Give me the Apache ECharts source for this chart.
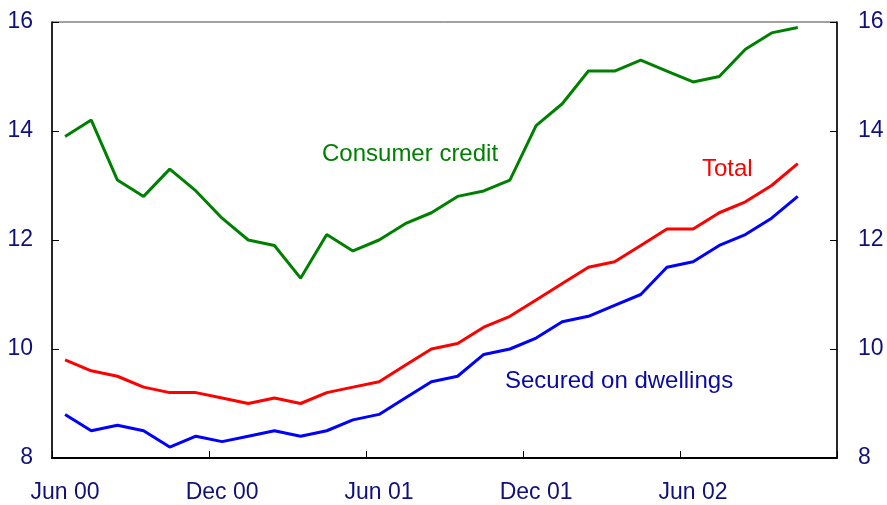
<!DOCTYPE html>
<html>
<head>
<meta charset="utf-8">
<script src="https://cdn.jsdelivr.net/npm/echarts@6/dist/echarts.min.js"></script>
<style>
	html, body { margin: 0; padding: 0; background: #fff; }
	#chart { width: 887px; height: 505px; }
</style>
</head>
<body>
<div id="chart"></div>
<script>
	// months, Jun 00 to Nov 02 (last band left empty)
	var months = ['Jun 00','Jul 00','Aug 00','Sep 00','Oct 00','Nov 00','Dec 00','Jan 01','Feb 01','Mar 01','Apr 01','May 01',
		'Jun 01','Jul 01','Aug 01','Sep 01','Oct 01','Nov 01','Dec 01','Jan 02','Feb 02','Mar 02','Apr 02','May 02',
		'Jun 02','Jul 02','Aug 02','Sep 02','Oct 02','Nov 02'];
	var yTicks = [8, 10, 12, 14, 16];

	var consumerCredit = [13.9,14.2,13.1,12.8,13.3,12.9,12.4,12.0,11.9,11.3,12.1,11.8,12.0,12.3,12.5,12.8,12.9,13.1,14.1,14.5,15.1,15.1,15.3,15.1,14.9,15.0,15.5,15.8,15.9];
	var total = [9.8,9.6,9.5,9.3,9.2,9.2,9.1,9.0,9.1,9.0,9.2,9.3,9.4,9.7,10.0,10.1,10.4,10.6,10.9,11.2,11.5,11.6,11.9,12.2,12.2,12.5,12.7,13.0,13.4];
	var securedOnDwellings = [8.8,8.5,8.6,8.5,8.2,8.4,8.3,8.4,8.5,8.4,8.5,8.7,8.8,9.1,9.4,9.5,9.9,10.0,10.2,10.5,10.6,10.8,11.0,11.5,11.6,11.9,12.1,12.4,12.8];

	var font = 'Arial, "Liberation Sans", sans-serif';
	var navy = '#10107a';

	var chart = echarts.init(document.getElementById('chart'), null, { renderer: 'canvas' });

	function yAxisOf(pos, margin) {
		return {
			type: 'value',
			position: pos,
			min: yTicks[0],
			max: yTicks[yTicks.length - 1],
			interval: 2,
			axisLine: { show: true, lineStyle: { color: '#000', width: 1.5 } },
			axisTick: { show: true, inside: true, length: 7, lineStyle: { color: '#000', width: 1 } },
			axisLabel: { margin: margin, color: navy, fontSize: 23, fontFamily: font },
			splitLine: { show: false }
		};
	}

	function line(name, data, color) {
		return {
			name: name,
			type: 'line',
			data: data,
			yAxisIndex: 0,
			symbol: 'none',
			lineStyle: { color: color, width: 3 },
			animation: false
		};
	}

	var option = {
		animation: false,
		grid: {
			left: 52, right: 50, top: 22, bottom: 47,
			show: true, borderColor: '#444', borderWidth: 1
		},
		xAxis: {
			type: 'category',
			data: months,
			boundaryGap: true,
			axisLine: { show: true, lineStyle: { color: '#000', width: 2 } },
			axisTick: { show: true, inside: true, interval: 5, alignWithLabel: false, length: 7, lineStyle: { color: '#000', width: 1 } },
			axisLabel: { interval: 5, margin: 23, color: navy, fontSize: 23, fontFamily: font },
			splitLine: { show: false }
		},
		yAxis: [yAxisOf('left', 19), yAxisOf('right', 21)],
		series: [
			line('Consumer credit', consumerCredit, '#008000'),
			line('Total', total, '#ff0000'),
			line('Secured on dwellings', securedOnDwellings, '#0000ff')
		],
		graphic: [
			{ type: 'text', left: 322, top: 142, style: { text: 'Consumer credit', fill: '#008000', font: '24px ' + font } },
			{ type: 'text', left: 702, top: 157, style: { text: 'Total', fill: '#ff0000', font: '24px ' + font } },
			{ type: 'text', left: 505, top: 369, style: { text: 'Secured on dwellings', fill: '#0a0aa0', font: '24px ' + font } }
		]
	};
	chart.setOption(option);
</script>
</body>
</html>
